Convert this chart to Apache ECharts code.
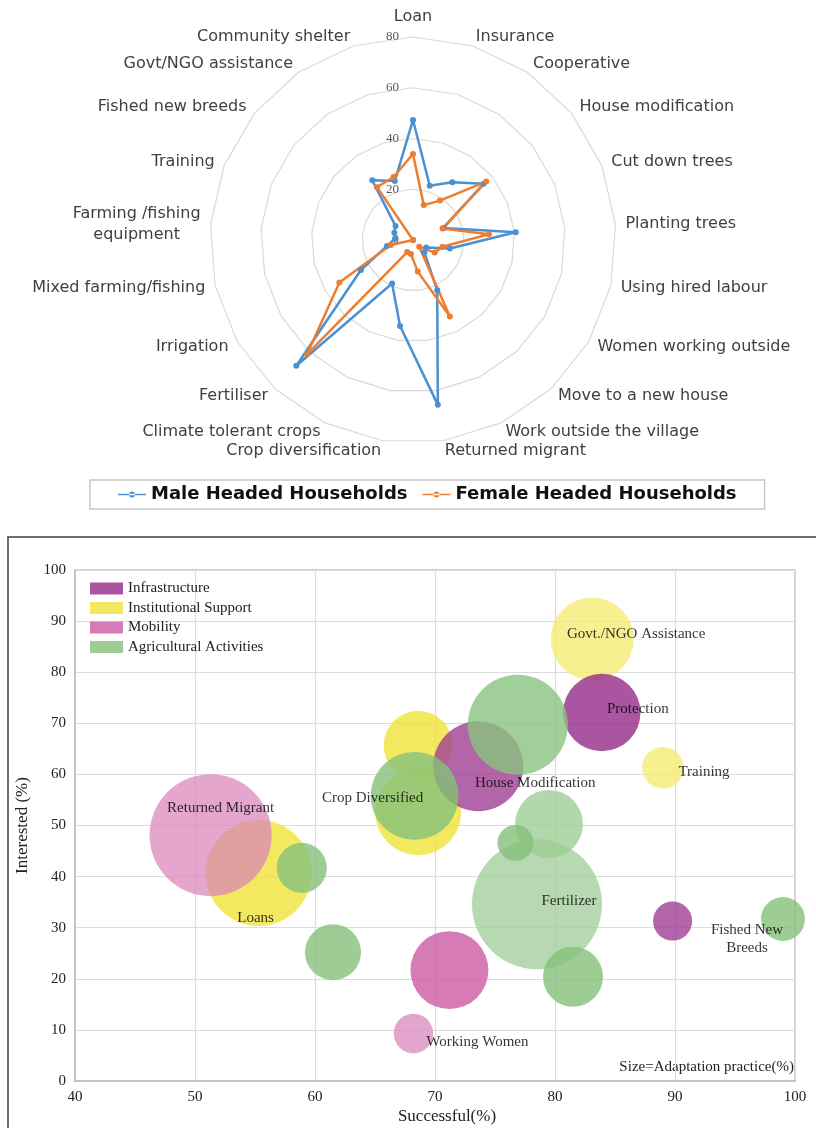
<!DOCTYPE html>
<html><head><meta charset="utf-8">
<script src="https://cdn.jsdelivr.net/npm/echarts@6/dist/echarts.min.js"></script>
<style>html,body{margin:0;padding:0;background:#fff}#c{width:816px;height:1128px}</style>
</head><body><div id="c"></div>
<script>
// ---------- Radar data ----------
const radarCategories = ['Loan','Insurance','Cooperative','House modification','Cut down trees','Planting trees',
  'Using hired labour','Women working outside','Move to a new house','Work outside the village','Returned migrant',
  'Crop diversification','Climate tolerant crops','Fertiliser','Irrigation','Mixed farming/fishing',
  'Farming /fishing\nequipment','Training','Fished new breeds','Govt/NGO assistance','Community shelter'];
const maleHeaded   = [47.3, 22.4, 27.5, 35.6, 13, 40.6, 14.9, 6, 6.6, 22, 65.7, 34.3, 19, 67.6, 23.7, 10.5, 7.1, 7.9, 8.8, 28.5, 24.3];
const femaleHeaded = [33.9, 14.4, 18.8, 36.9, 12.5, 30, 11.9, 9.9, 3.6, 33.5, 12.6, 5.6, 5.3, 61.3, 33.5, 9, 0, 0, 0, 25.2, 26];
const radarMax = 80;
const seriesNames = ['Male Headed Households','Female Headed Households'];

// ---------- Bubble data ----------
const groupNames = ['Infrastructure','Institutional Support','Mobility','Agricultural Activities'];
const bubbleLabels  = ['Govt./NGO Assistance','Training','Loans','','',
  'Protection','House Modification','',
  'Returned Migrant','','Working Women',
  'Fertilizer','','','','','','','Crop Diversified','Fished New\nBreeds'];
const bubbleGroups  = ['Institutional Support','Institutional Support','Institutional Support','Institutional Support','Institutional Support',
  'Infrastructure','Infrastructure','Infrastructure',
  'Mobility','Mobility','Mobility',
  'Agricultural Activities','Agricultural Activities','Agricultural Activities','Agricultural Activities','Agricultural Activities','Agricultural Activities','Agricultural Activities','Agricultural Activities','Agricultural Activities'];
const successfulPct = [83.1, 89.0, 55.3, 68.6, 68.6,  83.9, 73.6, 89.8,  51.3, 71.2, 68.2,  78.5, 79.5, 76.7, 81.5, 58.9, 61.5, 76.9, 68.3, 99.0];
const interestedPct = [86.5, 61.3, 40.7, 65.7, 52.6,  72.1, 61.6, 31.3,  48.1, 21.7, 9.3,   34.6, 50.3, 46.6, 20.4, 41.7, 25.2, 69.7, 55.8, 31.7];
const adaptationPct = [26.1, 6.6, 42.6, 18.0, 28.0,   22.7, 30.7, 5.8,   56.4, 23.0, 5.9,   64.0, 17.5, 4.9, 13.6, 9.5, 11.9, 37.9, 29.3, 7.3];

// ---------- Styles ----------
const drawOrder = ['Institutional Support','Infrastructure','Mobility','Agricultural Activities'];
const groupColors = {'Infrastructure':[149,42,136],'Institutional Support':[240,228,58],'Mobility':[204,90,162],'Agricultural Activities':[133,192,122]};
const bubbleTint  = [0.3,0.3,0,0,0, 0,0.1,0.1, 0.25,0,0.32, 0.26,0.2,0,0,0,0,0.04,0,0];
const bubbleAlpha = [1,1,1,1,1, 1,1,1, 0.9,1,1, 1,1,1,1,1,1,1,1,1];
const labelOffsets = [[44,-5],[41,4],[-3,45],[0,0],[0,0], [36,-4],[57,17],[0,0], [10,-27],[0,0],[64,9],
  [32,-3],[0,0],[0,0],[0,0],[0,0],[0,0],[0,0],[-42,2],[-36,20]];
const serif = 'Liberation Serif';
const sans = 'DejaVu Sans';

function bubbleColor(g, i) {
  const c = groupColors[g], t = bubbleTint[i];
  const m = c.map(v => Math.round(v + (255 - v) * t));
  return 'rgba(' + m.join(',') + ',' + bubbleAlpha[i] + ')';
}
function legendColor(g) { return 'rgb(' + groupColors[g].join(',') + ')'; }

// radar goes counter-clockwise in ECharts; reorder so the categories run clockwise from the top
const cw = arr => [arr[0]].concat(arr.slice(1).reverse());

const indicators = cw(radarCategories).map((n, i) => {
  const o = {name: n, min: 0, max: radarMax};
  if (i === 0) o.axisLabel = {show: true, fontFamily: serif, fontSize: 13, color: '#595959', margin: 14, showMinLabel: true};
  return o;
});

const scatterSeries = drawOrder.map(g => {
  const data = [];
  successfulPct.forEach((x, i) => {
    if (bubbleGroups[i] !== g) return;
    data.push({
      value: [x, interestedPct[i], adaptationPct[i]],
      name: bubbleLabels[i],
      itemStyle: {color: bubbleColor(g, i)},
      label: {show: bubbleLabels[i] !== '', offset: labelOffsets[i]}
    });
  });
  return {
    type: 'scatter', name: g, xAxisIndex: 0, yAxisIndex: 0,
    symbol: 'circle',
    symbolSize: v => 16.25 * Math.sqrt(v[2]),
    itemStyle: {color: legendColor(g)},
    label: {position: 'inside', formatter: '{b}', color: '#000', fontFamily: serif, fontSize: 15, lineHeight: 18,
      align: 'center', textBorderWidth: 0, textBorderColor: 'transparent', textShadowBlur: 0},
    emphasis: {disabled: true},
    data
  };
});

const lineIcon = 'path://M0,2.3h28v1.4h-28z M14,3m-3,0a3,3 0 1,0 6,0a3,3 0 1,0 -6,0z';

const option = {
  backgroundColor: '#fff',
  animation: false,
  radar: {
    center: [413, 240], radius: 203, startAngle: 90, splitNumber: 4, shape: 'polygon',
    indicator: indicators,
    nameGap: 10,
    axisName: {
      color: '#404040', fontFamily: sans, fontSize: 16, lineHeight: 21,
      formatter: name => name.indexOf('\n') < 0 ? name : name.split('\n').map(s => '{c|' + s + '}').join('\n'),
      rich: {c: {align: 'center', color: '#404040', fontFamily: sans, fontSize: 16, lineHeight: 21}}
    },
    splitLine: {lineStyle: {color: '#d9d9d9', width: 1.2}},
    splitArea: {show: false},
    axisLine: {show: false},
    axisTick: {show: false}
  },
  legend: [
    {
      data: seriesNames, left: 90, top: 480, orient: 'horizontal',
      icon: lineIcon, itemWidth: 28, itemHeight: 6, itemGap: 15,
      padding: [4, 28, 4, 28], borderColor: '#c8c8c8', borderWidth: 1.5,
      textStyle: {fontFamily: sans, fontWeight: 'bold', fontSize: 18, color: '#111', lineHeight: 21},
      selectedMode: false
    },
    {
      data: groupNames, left: 85, top: 575, orient: 'vertical',
      icon: 'rect', itemWidth: 33, itemHeight: 12, itemGap: 2.5,
      textStyle: {fontFamily: serif, fontSize: 15, color: '#222', lineHeight: 17},
      selectedMode: false
    }
  ],
  grid: {left: 75, right: 21, top: 570, bottom: 47, show: true, borderColor: '#bfbfbf', borderWidth: 1.5},
  xAxis: {
    type: 'value', min: 40, max: 100, interval: 10,
    name: 'Successful(%)', nameLocation: 'middle', nameGap: 27,
    nameTextStyle: {fontFamily: serif, fontSize: 17, color: '#222', padding: [0, 0, 0, 24]},
    axisLine: {show: true, lineStyle: {color: '#bfbfbf', width: 1.5}},
    axisTick: {show: false},
    axisLabel: {fontFamily: serif, fontSize: 15, color: '#222', margin: 9},
    splitLine: {lineStyle: {color: '#dcdcdc', width: 1.2}}
  },
  yAxis: {
    type: 'value', min: 0, max: 100, interval: 10,
    name: 'Interested (%)', nameLocation: 'middle', nameGap: 44,
    nameTextStyle: {fontFamily: serif, fontSize: 17, color: '#222'},
    axisLine: {show: true, lineStyle: {color: '#bfbfbf', width: 1.5}},
    axisTick: {show: false},
    axisLabel: {fontFamily: serif, fontSize: 15, color: '#222', margin: 9},
    splitLine: {lineStyle: {color: '#dcdcdc', width: 1.2}}
  },
  graphic: [
    {type: 'rect', shape: {x: 8, y: 537, width: 840, height: 640}, style: {fill: 'none', stroke: '#6e6e6e', lineWidth: 2}, silent: true},
    {type: 'text', right: 22, top: 1060, style: {text: 'Size=Adaptation practice(%)', font: '15px "Liberation Serif"', fill: '#222'}, silent: true}
  ],
  series: [
    {
      type: 'radar', symbol: 'circle', symbolSize: 6,
      emphasis: {disabled: true},
      data: [
        {name: seriesNames[0], value: cw(maleHeaded), itemStyle: {color: '#4a90d2'}, lineStyle: {color: '#4a90d2', width: 2.5}},
        {name: seriesNames[1], value: cw(femaleHeaded), itemStyle: {color: '#ed7d31'}, lineStyle: {color: '#ed7d31', width: 2.5}}
      ]
    }
  ].concat(scatterSeries)
};

const chart = echarts.init(document.getElementById('c'), null, {renderer: 'canvas'});
chart.setOption(option);
</script>
</body></html>
